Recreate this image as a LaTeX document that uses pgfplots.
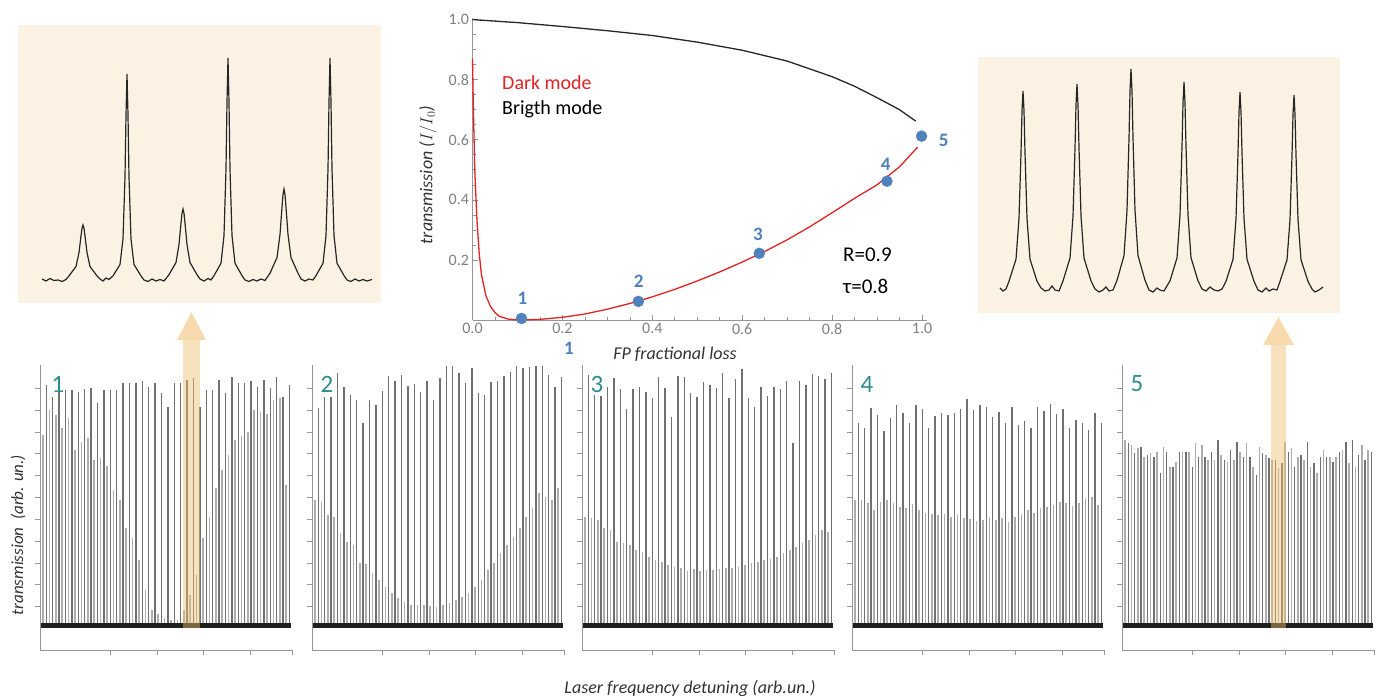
\documentclass[border=0pt]{standalone}
\usepackage{fontspec}
\setmainfont{Carlito}
\usepackage{pgfplots}
\pgfplotsset{compat=1.18}
\usepackage{pgfplotstable}

\definecolor{beige}{RGB}{252,242,228}
\definecolor{ptblue}{RGB}{79,129,189}
\definecolor{panelteal}{RGB}{45,140,140}
\definecolor{arrowc}{RGB}{240,190,110}
\definecolor{axgray}{RGB}{150,150,150}
\definecolor{curvered}{RGB}{225,35,35}
\newcommand\fs[1]{\fontsize{#1}{#1}\selectfont}

% spectra of the five bottom panels: xs/s = dark-mode (short) peaks, xt/t = bright-mode peaks
% heights in px above the noise baseline
\pgfplotstableread{
xs    xt    s1  t1  s2  t2  s3  t3  s4  t4  s5  t5
3     6.2   190 240 125 217 108 250 125 202 185 182
9.4   12.6  215 228 123 228 107 230 125 197 180 172
15.8  19    210 233 110 228 105 229 122 217 177 178
22.2  25.4  197 235 108 252 97  238 115 210 168 170
28.6  31.8  207 235 92  238 95  247 123 194 172 168
35    38.2  175 233 83  230 83  236 125 207 173 152
41.4  44.6  183 236 80  225 82  216 122 220 178 173
47.8  51    187 237 62  202 80  236 118 212 158 158
54.2  57.4  165 222 61  225 75  238 117 202 163 173
60.6  63.8  167 235 52  220 73  233 121 220 173 173
67    70.2  159 235 45  234 68  227 115 216 173 158
73.4  76.6  135 235 38  249 65  248 112 197 182 168
79.8  83    125 242 32  244 63  237 111 209 180 168
86.2  89.4  97  242 27  250 60  208 110 212 165 173
92.6  95.8  87  242 23  239 58  249 111 210 165 185
99    102.2 65  244 20  241 57  248 108 212 170 165
105.4 108.6 35  238 20  233 54  232 110 216 163 175
111.8 115   15  242 20  244 56  228 107 226 165 183
118.2 121.4 11  232 19  225 54  243 106 215 173 168
124.6 127.8 7   218 18  247 55  240 104 220 182 168
131   134.2 5   242 20  259 55  237 105 218 158 150
137.4 140.6 5   242 22  259 56  252 108 208 178 172
143.8 147   15  245 25  252 57  227 105 213 170 167
150.2 153.4 30  247 28  242 57  246 107 202 165 165
156.6 159.8 50  218 32  257 58  256 103 218 157 162
163   166.2 87  235 38  232 60  227 108 200 183 173
169.4 172.6 108 235 45  230 62  218 111 204 177 158
175.8 179   137 245 55  243 63  238 115 197 168 170
182.2 185.4 155 232 62  244 65  229 112 218 165 183
188.6 191.8 170 248 72  249 66  238 117 214 158 162
195   198.2 185 242 80  253 68  236 118 221 152 168
201.4 204.6 189 242 88  259 72  244 120 211 175 168
207.8 211   193 244 97  257 75  182 123 216 168 163
214.2 217.4 215 238 108 258 78  244 122 197 168 173
220.6 223.8 213 245 117 259 82  240 119 205 175 183
227   230.2 211 237 132 259 85  251 122 202 162 185
233.4 236.6 225 248 128 250 90  249 127 195 158 170
239.8 243   227 228 125 238 95  246 128 212 180 165
246.2 249.4 140 240 137 248 93  252 120 202 175 173
}\spec

\pgfplotsset{
  panel/.style={scale only axis, width=252pt, height=285pt, anchor=south west,
    xmin=0, xmax=252, ymin=-25, ymax=260, clip=false,
    axis lines=left, axis line style={-, axgray, line width=0.9pt},
    xtick={70,117,163,210,252}, ytick={19,41,62,84,106,128,150,172,193,215,237},
    xticklabels={}, yticklabels={}, tick align=outside, major tick length=5pt,
    tick style={axgray, line width=0.8pt}},
  dark/.style={ycomb, black!32, line width=1.5pt},
  bright/.style={ycomb, black!56, line width=1.4pt},
  base/.style={black!88, line width=5pt},
  inset/.style={scale only axis, hide axis, anchor=south west, clip=false},
}

\begin{document}
\begin{tikzpicture}
\useasboundingbox (0,0) rectangle (1380pt,-700pt);

% inset backgrounds
\fill[beige] (18pt,-25pt) rectangle (381pt,-303pt);
\fill[beige] (978pt,-57pt) rectangle (1340pt,-313pt);

% ---------- top: transmission vs FP fractional loss ----------
\begin{axis}[scale only axis, width=454pt, height=301.9pt, at={(472.5pt,-320pt)}, anchor=south west,
  xmin=0, xmax=1.01, ymin=0, ymax=1.005, clip=false,
  axis lines=left, axis line style={-, axgray, line width=0.8pt},
  xtick={0,0.2,0.4,0.6,0.8,1.0}, ytick={0.2,0.4,0.6,0.8,1.0},
  minor tick num=3, tick align=inside, major tick length=5pt, minor tick length=3pt,
  tick style={axgray, line width=0.6pt},
  ticklabel style={font=\fs{16}, text=gray},
  /pgf/number format/fixed, /pgf/number format/fixed zerofill,
  /pgf/number format/precision=1, /pgf/number format/assume math mode=true]
\addplot[black!85, line width=1.3pt] coordinates {(0,1.0) (0.1,0.99) (0.2,0.977) (0.3,0.963) (0.4,0.947)
  (0.5,0.925) (0.6,0.898) (0.7,0.862) (0.8,0.81) (0.85,0.778) (0.9,0.74) (0.95,0.7) (0.986,0.662)};
\addplot[curvered, line width=1.3pt] coordinates {(0,0.87) (0.002,0.7) (0.005,0.5) (0.01,0.33) (0.015,0.22)
  (0.02,0.15) (0.03,0.08) (0.04,0.045) (0.05,0.025) (0.06,0.012) (0.08,0.003) (0.1,0.0) (0.15,0.002)
  (0.2,0.009) (0.25,0.02) (0.3,0.036) (0.35,0.055) (0.4,0.077) (0.45,0.102) (0.5,0.13) (0.55,0.16)
  (0.6,0.193) (0.65,0.228) (0.7,0.267) (0.75,0.31) (0.8,0.357) (0.85,0.405) (0.9,0.45) (0.95,0.51) (0.99,0.575)};
\addplot[only marks, mark=*, mark size=5.5pt, ptblue] coordinates {(0.109,0.005) (0.369,0.062) (0.638,0.222) (0.922,0.462) (0.999,0.612)};
\end{axis}

% ---------- left inset ----------
\begin{axis}[inset, width=330pt, height=250pt, at={(42pt,-280pt)}, xmin=42, xmax=372, ymin=0, ymax=250]
\addplot[black!85, line width=1.2pt] coordinates {
(42,1) (46,-1) (50,1.5) (54,-0.5) (58,0) (62,-1.5) (66,0.5)
(69,4.1) (76,13.5) (79,27.5) (81,44) (82,51.7) (83,55) (84,51.7) (85,44) (87,27.5) (90,13.5) (97,4.1)
(100,1) (103,-1) (106,2) (109,0.5)
(113,4.1) (120,15.5) (123,41) (125,103) (126,165) (127,206) (128,165) (129,103) (131,41) (134,15.5) (141,4.1)
(144,0) (148,-1.5) (152,1) (156,-1) (160,0.5) (164,-1)
(169,5.3) (176,17.5) (179,35.5) (181,56.8) (182,66.7) (183,71) (184,66.7) (185,56.8) (187,35.5) (190,17.5) (197,5.3)
(200,1) (204,-1) (208,1.5) (211,0)
(214,4.4) (221,16.7) (224,44.4) (226,111) (227,178) (228,222) (229,178) (230,111) (232,44.4) (235,16.7) (242,4.4)
(245,0) (249,-1.5) (253,0.5) (257,-1) (261,1) (265,-0.5)
(270,6.8) (277,22.4) (280,45.5) (282,72.8) (283,85.5) (284,91) (285,85.5) (286,72.8) (288,45.5) (291,22.4) (298,6.8)
(301,1) (305,-1) (309,1) (313,0)
(316,4.4) (323,16.7) (326,44.4) (328,111) (329,178) (330,222) (331,178) (332,111) (334,44.4) (337,16.7) (344,4.4)
(347,0) (351,-1.5) (355,1) (359,-1) (363,0.5) (367,-1) (372,0.5)};
\end{axis}

% ---------- right inset ----------
\begin{axis}[inset, width=323pt, height=230pt, at={(1000pt,-290pt)}, xmin=1000, xmax=1323, ymin=0, ymax=230]
\addplot[black!85, line width=1.2pt] coordinates {
(1000,2) (1003,-1) (1006,1)
(1009,8.8) (1016,30.8) (1019,71.6) (1021,137) (1022,179) (1023,199) (1024,179) (1025,137) (1027,71.6) (1030,30.8) (1037,8.8)
(1041,2) (1045,-1) (1049,0) (1052,4) (1055,0) (1059,-1)
(1063,9.1) (1070,31.9) (1073,74) (1075,142) (1076,185) (1077,206) (1078,185) (1079,142) (1081,74) (1084,31.9) (1091,9.1)
(1095,1) (1099,-2) (1103,0) (1106,3) (1109,-1) (1113,0)
(1117,9.7) (1124,34.3) (1127,79.6) (1129,152) (1130,199) (1131,221) (1132,199) (1133,152) (1135,79.6) (1138,34.3) (1145,9.7)
(1149,0) (1153,-2) (1157,2) (1160,0) (1164,-1)
(1170,9.2) (1177,32.2) (1180,74.9) (1182,143.5) (1183,187) (1184,208) (1185,187) (1186,143.5) (1188,74.9) (1191,32.2) (1198,9.2)
(1202,1) (1206,-1) (1210,3) (1214,0) (1218,-1) (1222,1)
(1226,8.7) (1233,30.7) (1236,71.3) (1238,137) (1239,178) (1240,198) (1241,178) (1242,137) (1244,71.3) (1247,30.7) (1254,8.7)
(1258,0) (1262,-2) (1266,2) (1269,-1) (1273,1) (1277,0)
(1280,8.6) (1287,30.2) (1290,70.2) (1292,134.6) (1293,175.5) (1294,195) (1295,175.5) (1296,134.6) (1298,70.2) (1301,30.2) (1308,8.6)
(1312,1) (1315,-2) (1319,0) (1323,3)};
\end{axis}

% ---------- bottom panels ----------
\begin{axis}[panel, at={(40pt,-650pt)}]
\addplot[dark] table[x=xs,y=s1]{\spec};
\addplot[bright] table[x=xt,y=t1]{\spec};
\addplot[base] coordinates {(1,0) (251,0)};
\end{axis}
\begin{axis}[panel, at={(312pt,-650pt)}]
\addplot[dark] table[x=xs,y=s2]{\spec};
\addplot[bright] table[x=xt,y=t2]{\spec};
\addplot[base] coordinates {(1,0) (251,0)};
\end{axis}
\begin{axis}[panel, at={(582pt,-650pt)}]
\addplot[dark] table[x=xs,y=s3]{\spec};
\addplot[bright] table[x=xt,y=t3]{\spec};
\addplot[base] coordinates {(1,0) (251,0)};
\end{axis}
\begin{axis}[panel, at={(852pt,-650pt)}]
\addplot[dark] table[x=xs,y=s4]{\spec};
\addplot[bright] table[x=xt,y=t4]{\spec};
\addplot[base] coordinates {(1,0) (251,0)};
\end{axis}
\begin{axis}[panel, at={(1122pt,-650pt)}]
\addplot[dark] table[x=xs,y=s5]{\spec};
\addplot[bright] table[x=xt,y=t5]{\spec};
\addplot[base] coordinates {(1,0) (251,0)};
\end{axis}

% orange arrows
\fill[arrowc, opacity=0.45] (183pt,-628pt) rectangle (200pt,-340pt);
\fill[arrowc, opacity=0.55] (177pt,-340pt) -- (206pt,-340pt) -- (191.5pt,-312pt) -- cycle;
\fill[arrowc, opacity=0.45] (1271pt,-628pt) rectangle (1286pt,-345pt);
\fill[arrowc, opacity=0.55] (1263pt,-345pt) -- (1294pt,-345pt) -- (1278.5pt,-317pt) -- cycle;

% texts of the top chart
\node[anchor=west, text=curvered, font=\fs{20}, inner sep=0] at (502pt,-83pt) {Dark mode};
\node[anchor=west, font=\fs{20}, inner sep=0] at (502pt,-109pt) {Brigth mode};
\node[anchor=west, font=\fs{21}, inner sep=0] at (843pt,-255pt) {R=0.9};
\node[anchor=west, font=\fs{21}, inner sep=0] at (843pt,-286pt) {τ=0.8};
\node[rotate=90, font=\itshape\fs{18}, text=black!80] at (428pt,-175pt) {transmission ($I/I_0$)};
\node[font=\itshape\fs{18}, text=black!80] at (675pt,-354pt) {FP fractional loss};
\begin{scope}[every node/.style={text=ptblue, font=\bfseries\fs{19}, inner sep=0}]
\node at (522.5pt,-298pt) {1};
\node at (638.6pt,-281pt) {2};
\node at (758pt,-234pt) {3};
\node at (885.7pt,-164pt) {4};
\node at (943.6pt,-140pt) {5};
\node at (569pt,-348pt) {1};
\end{scope}

% panel numbers
\begin{scope}[every node/.style={text=panelteal, font=\fs{25}, inner sep=0}]
\node at (58pt,-384pt) {1};
\node at (327pt,-384pt) {2};
\node at (597pt,-384pt) {3};
\node at (867pt,-384pt) {4};
\node at (1137pt,-384pt) {5};
\end{scope}

\node[rotate=90, font=\itshape\fs{17}, text=black!80] at (18pt,-535pt) {transmission\ \ (arb. un.)};
\node[font=\itshape\fs{18}, text=black!80] at (690pt,-688pt) {Laser frequency detuning (arb.un.)};
\end{tikzpicture}
\end{document}
